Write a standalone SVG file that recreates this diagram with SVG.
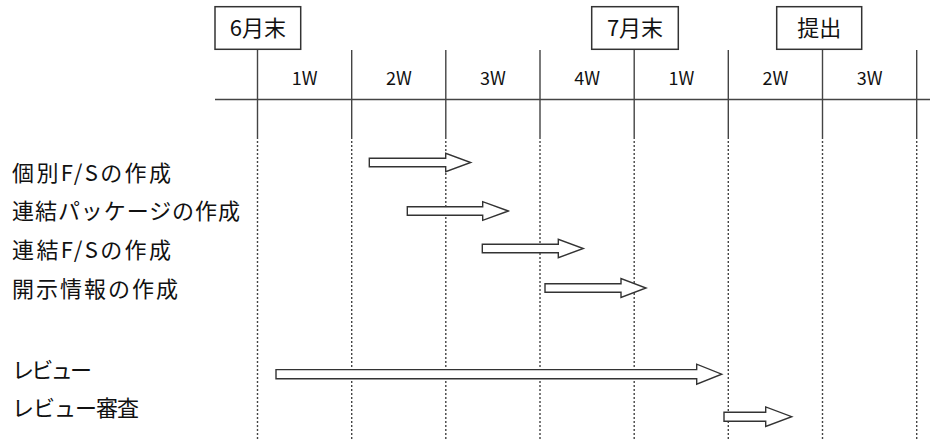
<svg xmlns="http://www.w3.org/2000/svg" width="930" height="441" viewBox="0 0 930 441">
<style>
text{font-family:"Noto Sans CJK JP","Liberation Sans",sans-serif;fill:#111}
.lbl{font-size:22px}
.wk{font-size:18px;text-anchor:middle}
.mk{font-size:22px;text-anchor:middle}
.box{fill:#fff;stroke:#333;stroke-width:1.5}
.solid{stroke:#444;stroke-width:1.4;fill:none}
.dot{stroke:#444;stroke-width:1.4;stroke-dasharray:2 2;fill:none}
.arr{fill:#fff;stroke:#333;stroke-width:1.4;stroke-linejoin:miter}
</style>
<g id="grid">
<line class="solid" x1="215" y1="99.5" x2="930" y2="99.5"/>
<path class="solid" d="M257.5 49V137M351.7 50V137M445.8 50V137M540 50V137M634.2 49V137M728.3 50V137M822.5 49V137M916.7 50V137"/>
<path class="dot" d="M257.5 137V441M351.7 137V441M445.8 137V441M540 137V441M634.2 137V441M728.3 137V441M822.5 137V441M916.7 137V441"/>
</g>
<g id="weeks">
<text class="wk" x="304.6" y="85">1W</text>
<text class="wk" x="398.8" y="85">2W</text>
<text class="wk" x="492.9" y="85">3W</text>
<text class="wk" x="587.1" y="85">4W</text>
<text class="wk" x="681.3" y="85">1W</text>
<text class="wk" x="775.4" y="85">2W</text>
<text class="wk" x="869.6" y="85">3W</text>
</g>
<g id="m-june"><rect class="box" x="215" y="6.7" width="85.7" height="42.6"/><text class="mk" x="257.9" y="36">6月末</text></g>
<g id="m-july"><rect class="box" x="591.7" y="6.7" width="86.6" height="42.6"/><text class="mk" x="635" y="36">7月末</text></g>
<g id="m-submit"><rect class="box" x="776.7" y="6.7" width="85" height="42.6"/><text class="mk" x="819.2" y="36">提出</text></g>
<g id="task1"><text class="lbl" x="12" y="181" textLength="159" lengthAdjust="spacing">個別F/Sの作成</text></g>
<g id="task2"><text class="lbl" x="12" y="219" textLength="228" lengthAdjust="spacing">連結パッケージの作成</text></g>
<g id="task3"><text class="lbl" x="12" y="258" textLength="159" lengthAdjust="spacing">連結F/Sの作成</text></g>
<g id="task4"><text class="lbl" x="12" y="297" textLength="166" lengthAdjust="spacing">開示情報の作成</text></g>
<g id="task5"><text class="lbl" x="12" y="378" textLength="80" lengthAdjust="spacing">レビュー</text></g>
<g id="task6"><text class="lbl" x="12" y="416" textLength="127" lengthAdjust="spacing">レビュー審査</text></g>
<g id="connectors">
<path class="arr" d="M369.3 158.3H445.7V153.3L470.7 162.5L445.7 171.7V166.7H369.3Z"/>
<path class="arr" d="M407.3 206.8H482.7V201.7L508.3 211L482.7 220.3V215.2H407.3Z"/>
<path class="arr" d="M482.3 244.3H558.3V239.3L583.3 248.5L558.3 257.7V252.7H482.3Z"/>
<path class="arr" d="M545 283.8H621V278.6L646 288L621 297.4V292.2H545Z"/>
<path class="arr" d="M276 369.6H696.7V364.2L721.7 374.2L696.7 384.2V378.8H276Z"/>
<path class="arr" d="M724 412.2H765.7V406.9L791.7 416.7L765.7 426.5V421.2H724Z"/>
</g>
</svg>
